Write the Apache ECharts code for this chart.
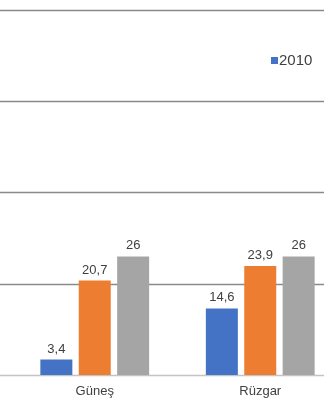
<!DOCTYPE html>
<html>
<head>
<meta charset="utf-8">
<script src="https://cdn.jsdelivr.net/npm/echarts@6/dist/echarts.min.js"></script>
<style>
  html, body { margin: 0; padding: 0; background: #fff; }
  #chart { width: 324px; height: 400px; }
</style>
</head>
<body>
<div id="chart"></div>
<script>
// Energy source categories and per-series values
const categories = ['Güneş', 'Rüzgar'];
const seriesNames = ['2010', 'B', 'C'];
const values2010 = [3.4, 14.6];
const valuesB = [20.7, 23.9];
const valuesC = [26, 26];
const yMin = 0, yMax = 80, yStep = 20;

const colors = ['#4472C4', '#ED7D31', '#A5A5A5'];
const fmt = p => String(p.value).replace('.', ',');

const chart = echarts.init(document.getElementById('chart'), null, { renderer: 'canvas' });

const barSeries = [values2010, valuesB, valuesC].map((data, i) => ({
  name: seriesNames[i],
  type: 'bar',
  xAxisIndex: 0,
  yAxisIndex: 0,
  data: data,
  barWidth: 32,
  barGap: '20%',
  itemStyle: { color: colors[i] },
  label: {
    show: true,
    position: 'top',
    distance: 4,
    formatter: fmt,
    fontFamily: 'Liberation Sans, Arial, sans-serif',
    fontSize: 13,
    color: '#404040'
  },
  z: 3
}));

chart.setOption({
  animation: false,
  backgroundColor: '#fff',
  legend: {
    data: ['2010'],
    left: 266,
    top: 48,
    icon: 'rect',
    itemWidth: 7,
    itemHeight: 7,
    textStyle: {
      fontFamily: 'Liberation Sans, Arial, sans-serif',
      fontSize: 15,
      color: '#404040',
      padding: [0, 0, 0, -4]
    }
  },
  grid: [
    // plot area for bars (runs past the right edge)
    { left: 12, width: 331, top: 10, bottom: 25, containLabel: false, outerBoundsMode: 'none' },
    // full-width area used only for the horizontal gridlines
    { left: 0, width: 324, top: 10, bottom: 25, containLabel: false, outerBoundsMode: 'none' }
  ],
  xAxis: [
    {
      type: 'category',
      gridIndex: 0,
      data: categories,
      axisLine: { show: false },
      axisTick: { show: false },
      axisLabel: {
        margin: 10,
        fontFamily: 'Liberation Sans, Arial, sans-serif',
        fontSize: 13,
        color: '#404040'
      }
    },
    {
      type: 'value',
      gridIndex: 1,
      show: false
    }
  ],
  yAxis: [
    {
      type: 'value',
      gridIndex: 0,
      min: yMin, max: yMax, interval: yStep,
      axisLabel: { show: false },
      axisLine: { show: false },
      axisTick: { show: false },
      splitLine: { show: false }
    },
    {
      type: 'value',
      gridIndex: 1,
      min: yMin, max: yMax, interval: yStep,
      axisLabel: { show: false },
      axisLine: { show: false },
      axisTick: { show: false },
      splitLine: {
        show: true,
        lineStyle: { color: ['#c4c4c4', '#8a8a8a', '#8a8a8a', '#8a8a8a', '#8a8a8a'], width: 1.3 }
      }
    }
  ],
  series: barSeries
});
</script>
</body>
</html>
